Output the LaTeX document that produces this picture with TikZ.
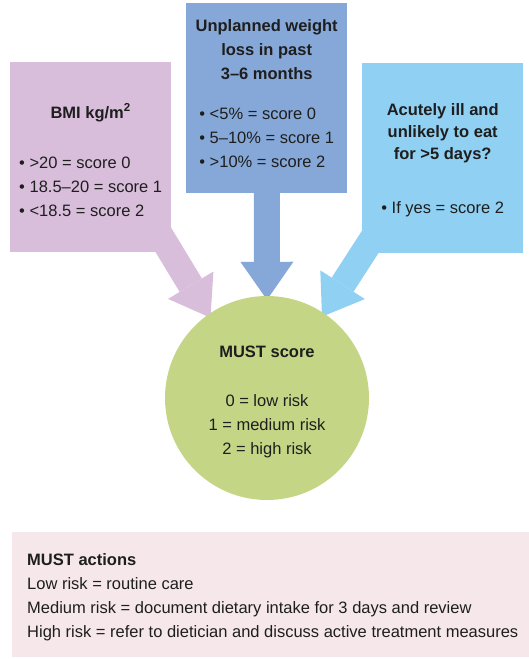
\documentclass[tikz,border=0pt]{standalone}
\usepackage{fontspec}
\setmainfont{Liberation Sans}
\usepackage{xcolor}
\definecolor{bmi-lilac}{HTML}{D9BEDC}
\definecolor{loss-blue}{HTML}{86A8D8}
\definecolor{ill-blue}{HTML}{8FD0F3}
\definecolor{must-green}{HTML}{C4D686}
\definecolor{actions-pink}{HTML}{F6E8EA}
\definecolor{text-dark}{HTML}{1E1E1E}
\usepackage{tikz}
\usetikzlibrary{arrows.meta,calc,positioning}
\pgfdeclarelayer{background}
\pgfsetlayers{background,main}

\begin{document}
\begin{tikzpicture}[x=1pt, y=1pt, font=\fontsize{16.5}{24}\selectfont,
  inbox/.style={rectangle, inner sep=0pt, minimum width=161pt, minimum height=190pt, anchor=north west},
  intext/.style={inner sep=0pt, align=center, text=text-dark},
  blockarrow/.style={line width=26pt, -{Triangle[length=38pt,width=53pt,line width=0pt]}, shorten >=-4pt}]

    \useasboundingbox (0,0) rectangle (529,-659);

  % The three input boxes
  \node[inbox, fill=bmi-lilac] (bmi) at (10,-62) {};
  \node[inbox, fill=loss-blue] (loss) at (186,-3) {};
  \node[inbox, fill=ill-blue] (ill) at (362,-63) {};

  \node[intext, below=41.5pt of bmi.north] (bmitext) {\textbf{BMI kg/m\textsuperscript{2}}\\[26pt]
    \begin{tabular}[t]{@{}l@{}}• >20 = score 0\\ • 18.5–20 = score 1\\ • <18.5 = score 2\end{tabular}};
  \node[intext, below=16pt of loss.north] (losstext) {\textbf{Unplanned weight}\\ \textbf{loss in past}\\ \textbf{3–6 months}\\[16pt]
    \begin{tabular}[t]{@{}l@{}}• <5\% = score 0\\ • 5–10\% = score 1\\ • >10\% = score 2\end{tabular}};
  \node[intext, below=40pt of ill.north] (illtext) {\textbf{Acutely ill and}\\[-2pt] \textbf{unlikely to eat}\\[-2pt] \textbf{for >5 days?}\\[30pt]
    \begin{tabular}[t]{@{}l@{}}• If yes = score 2\end{tabular}};

  % Score circle
  \node[circle, fill=must-green, minimum size=204pt, inner sep=0pt] (must) at (267,-398) {};
  \node[intext, below=50pt of must.north] (musttext) {\textbf{MUST score}\\[25pt]
    0 = low risk\\ 1 = medium risk\\ 2 = high risk};

  % Block arrows behind the boxes and the circle
  \begin{pgfonlayer}{background}
    \draw[blockarrow, bmi-lilac] ($(bmi.south east)+(-32,52)$) -- (must.125);
    \draw[blockarrow, loss-blue] ($(loss.south)+(0,25)$) -- (must.north);
    \draw[blockarrow, ill-blue] ($(ill.south west)+(35,53)$) -- (must.56);
  \end{pgfonlayer}

  % Actions box
  \node[rectangle, fill=actions-pink, minimum width=517pt, minimum height=125pt, inner sep=0pt, anchor=north west] (actions) at (12,-532) {};
  \node[intext, align=left, anchor=north west] (actionstext) at ($(actions.north west)+(15,-21)$) {\textbf{MUST actions}\\
    Low risk = routine care\\
    Medium risk = document dietary intake for 3 days and review\\
    High risk = refer to dietician and discuss active treatment measures};

\end{tikzpicture}
\end{document}
